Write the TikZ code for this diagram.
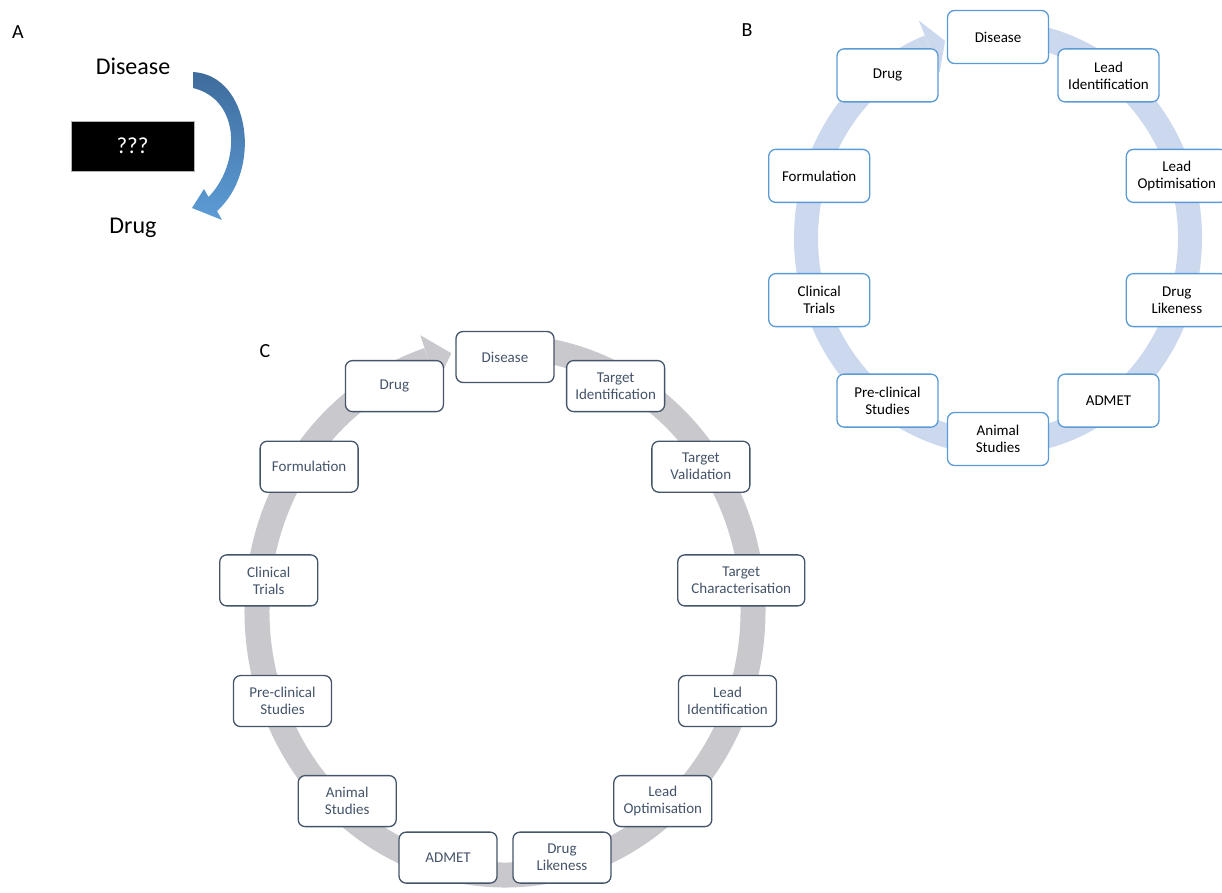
\documentclass[tikz,border=0pt]{standalone}
\usepackage{fontspec}
\setmainfont{Carlito}
\usetikzlibrary{calc}
\definecolor{bblue}{HTML}{5B9BD5}
\definecolor{bring}{HTML}{CBD8EE}
\definecolor{cgray}{HTML}{44546A}
\definecolor{cring}{HTML}{C9C9CD}
\definecolor{adark}{HTML}{3E6C9C}
\definecolor{alight}{HTML}{5D9CD6}
\tikzset{
  boxtext/.style={font=\fontsize{15}{17}\selectfont},
  bbox/.style={boxtext, draw=bblue, fill=white, rounded corners=7pt, line width=1.3pt,
    minimum width=101pt, minimum height=53pt, align=center, text=black, inner xsep=2pt},
  cbox/.style={boxtext, draw=cgray, fill=white, rounded corners=7pt, line width=1.3pt,
    minimum width=98pt, minimum height=51pt, align=center, text=cgray, inner xsep=2pt},
  panel/.style={font=\fontsize{20}{24}\selectfont, inner sep=0pt},
  bigtext/.style={font=\fontsize{24}{28}\selectfont, inner sep=0pt},
}
\begin{document}
\begin{tikzpicture}[x=1pt,y=1pt]
\useasboundingbox (0,0) rectangle (1222,-893);

% ---------- panel A ----------
\node[panel] (la) at (18,-32) {A};
\node[bigtext] (adis) at (133,-66) {Disease};
\node[bigtext] (adrug) at (133,-228) {Drug};
\node[fill=black, draw=gray!60, minimum width=123pt, minimum height=50pt,
      text=white, font=\fontsize{23}{26}\selectfont] (aq) at (132.5,-146) {???};
% curved arrow from Disease down to Drug
\shade[top color=adark, bottom color=alight]
  (193,-72) .. controls (250,-75) and (263,-170) .. (217,-211)
  -- (222,-220) -- (192,-208) -- (204,-189) -- (208.5,-197)
  .. controls (240,-165) and (242,-100) .. (193,-88) -- cycle;

% ---------- panel B ----------
\node[panel] (lb) at (747,-30) {B};
\coordinate (bc) at (998,-238);
\draw[bring, line width=24pt]
  ($(bc)+(85:192pt and 205pt)$) arc[start angle=85, end angle=-249, x radius=192pt, y radius=205pt];
\fill[bring] ($(bc)+(111:221pt and 233pt)$) -- ($(bc)+(106:192pt and 205pt)$)
  -- ($(bc)+(111:163pt and 177pt)$) -- cycle;
\foreach \i/\t in {0/Disease, 1/{Lead\\Identification}, 2/{Lead\\Optimisation},
    3/{Drug\\Likeness}, 4/ADMET, 5/{Animal\\Studies}, 6/{Pre-clinical\\Studies},
    7/{Clinical\\Trials}, 8/Formulation, 9/Drug}
  \node[bbox] (b\i) at ($(bc)+({90-36*\i}:188pt and 201pt)$) {\t};

% ---------- panel C ----------
\node[panel] (lc) at (265,-351) {C};
\coordinate (cc) at (505,-611);
\draw[cring, line width=25pt]
  ($(cc)+(85:248pt and 264pt)$) arc[start angle=85, end angle=-252, x radius=248pt, y radius=264pt];
\fill[cring] ($(cc)+(108:274pt and 290pt)$) -- ($(cc)+(102.5:248pt and 264pt)$)
  -- ($(cc)+(108:222pt and 238pt)$) -- cycle;
\foreach \i/\t in {0/Disease, 1/{Target\\Identification}, 2/{Target\\Validation},
    4/{Lead\\Identification}, 5/{Lead\\Optimisation}, 6/{Drug\\Likeness}, 7/ADMET,
    8/{Animal\\Studies}, 9/{Pre-clinical\\Studies}, 10/{Clinical\\Trials},
    11/Formulation, 12/Drug}
  \node[cbox] (c\i) at ($(cc)+({90-360/13*\i}:238pt and 254pt)$) {\t};
\node[cbox, minimum width=127pt] (c3) at ($(cc)+({90-360/13*3}:238pt and 254pt)$)
  {Target\\Characterisation};
\end{tikzpicture}
\end{document}
